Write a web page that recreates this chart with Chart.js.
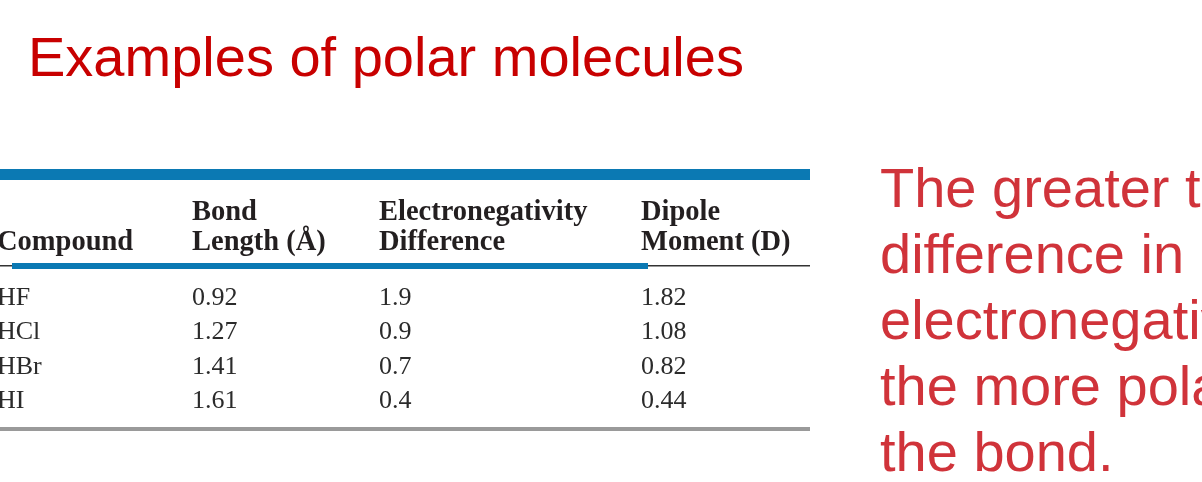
<!DOCTYPE html>
<html lang="en">
<head>
<meta charset="UTF-8">
<title>Examples of polar molecules</title>
<script src="https://cdn.jsdelivr.net/npm/chart.js"></script>
<style>
    html, body {
        margin: 0;
        padding: 0;
        width: 1202px;
        height: 482px;
        overflow: hidden;
        background: #fff;
    }
    #title {
        position: absolute;
        left: 28px;
        top: 29px;
        font-family: "Liberation Sans", Arial, sans-serif;
        font-size: 56px;
        line-height: 56px;
        color: #c80000;
        white-space: nowrap;
    }
    #note {
        position: absolute;
        left: 880px;
        top: 155px;
        font-family: "Liberation Sans", Arial, sans-serif;
        font-size: 56px;
        line-height: 66px;
        color: #d0333a;
        white-space: nowrap;
    }
    #tableBox {
        position: absolute;
        left: 0;
        top: 150px;
        width: 820px;
        height: 290px;
    }
</style>
</head>
<body>

<div id="title">Examples of polar molecules</div>
<div id="note">The greater the<br>difference in<br>electronegativity<br>the more polar<br>the bond.</div>

<div id="tableBox"><canvas id="polarTable"></canvas></div>

<script>
// table data
var compounds = ['HF', 'HCl', 'HBr', 'HI'];
var bondLength = ['0.92', '1.27', '1.41', '1.61'];
var enDifference = ['1.9', '0.9', '0.7', '0.4'];
var dipoleMoment = ['1.82', '1.08', '0.82', '0.44'];
var headers = [
    ['', 'Compound'],
    ['Bond', 'Length (Å)'],
    ['Electronegativity', 'Difference'],
    ['Dipole', 'Moment (D)']
];

// layout (left edge of each column on the x scale)
var colX = [-3, 192, 379, 641];
var tableWidth = 810;

var columns = [compounds, bondLength, enDifference, dipoleMoment];

// one dataset per column, one point per row
var datasets = columns.map(function(col, c) {
    return {
        label: headers[c].join(' ').trim(),
        data: col.map(function(v, r) {
            return { x: colX[c], y: compounds[r], text: v };
        }),
        pointRadius: 0,
        pointHoverRadius: 0
    };
});

// draws the cell text and the rules of the table
var tablePlugin = {
    id: 'tablePlugin',
    afterDatasetsDraw: function(chart) {
        var ctx = chart.ctx;
        var xs = chart.scales.x;
        var area = chart.chartArea;
        var x0 = xs.getPixelForValue(0);
        var x1 = xs.getPixelForValue(tableWidth);
        ctx.save();

        // top blue band
        ctx.fillStyle = '#0b79b3';
        ctx.fillRect(x0, area.top - 111, x1 - x0, 11);

        // header text
        ctx.fillStyle = '#231f20';
        ctx.font = 'bold 28.5px "Liberation Serif", "Times New Roman", serif';
        ctx.textBaseline = 'alphabetic';
        ctx.textAlign = 'left';
        headers.forEach(function(h, c) {
            var px = xs.getPixelForValue(colX[c]);
            if (h[0]) ctx.fillText(h[0], px, area.top - 60);
            ctx.fillText(h[1], px, area.top - 30);
        });

        // thin rule under header + blue accent
        ctx.fillStyle = '#333';
        ctx.fillRect(x0, area.top - 15, x1 - x0, 1.5);
        ctx.fillStyle = '#0b79b3';
        ctx.fillRect(xs.getPixelForValue(12), area.top - 17, xs.getPixelForValue(648) - xs.getPixelForValue(12), 6);

        // cells
        ctx.fillStyle = '#2b2b2b';
        ctx.font = '26px "Liberation Serif", "Times New Roman", serif';
        chart.data.datasets.forEach(function(ds, i) {
            var meta = chart.getDatasetMeta(i);
            meta.data.forEach(function(pt, j) {
                ctx.fillText(ds.data[j].text, pt.x, pt.y + 8);
            });
        });

        // bottom gray rule
        ctx.fillStyle = '#9a9a9a';
        ctx.fillRect(x0, area.bottom + 10, x1 - x0, 4);

        ctx.restore();
    }
};

var ctx = document.getElementById('polarTable').getContext('2d');
var polarTable = new Chart(ctx, {
    type: 'scatter',
    data: { datasets: datasets },
    options: {
        responsive: true,
        maintainAspectRatio: false,
        animation: false,
        layout: { padding: { top: 130, bottom: 23, left: 0, right: 0 } },
        plugins: {
            legend: { display: false },
            tooltip: { enabled: false }
        },
        scales: {
            x: { type: 'linear', min: 0, max: 820, display: false },
            y: { type: 'category', labels: compounds, offset: true, display: false }
        }
    },
    plugins: [tablePlugin]
});
</script>

</body>
</html>
